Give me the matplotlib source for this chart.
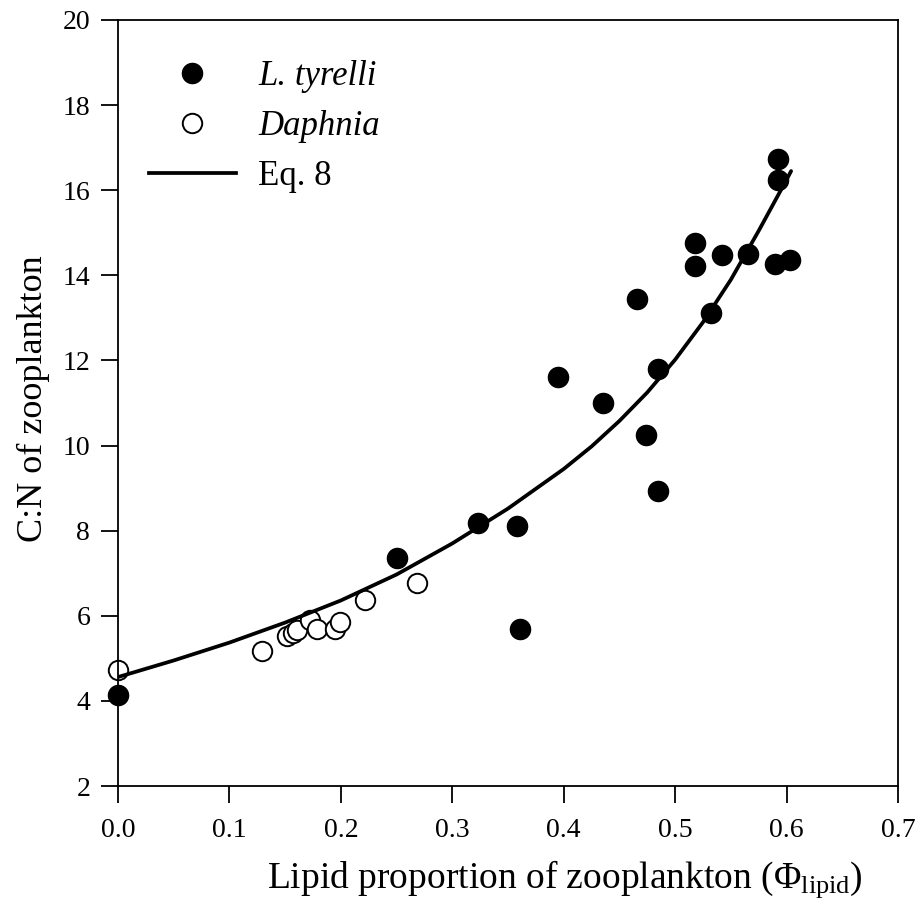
import matplotlib
matplotlib.use("Agg")
import matplotlib.pyplot as plt
from matplotlib.lines import Line2D

plt.rcParams['font.family'] = ['Liberation Serif', 'DejaVu Serif']
plt.rcParams['mathtext.fontset'] = 'custom'
plt.rcParams['mathtext.rm'] = 'Liberation Serif'
plt.rcParams['mathtext.it'] = 'Liberation Serif:italic'

# L. tyrelli (filled)
tyrelli_x = [0.0, 0.25, 0.323, 0.358, 0.361, 0.395, 0.435, 0.466, 0.474, 0.485, 0.485,
             0.518, 0.518, 0.532, 0.542, 0.565, 0.590, 0.592, 0.592, 0.603]
tyrelli_y = [4.15, 7.35, 8.18, 8.10, 5.70, 11.61, 11.00, 13.45, 10.25, 11.80, 8.93,
             14.75, 14.23, 13.12, 14.47, 14.50, 14.26, 16.25, 16.73, 14.35]

# Daphnia (open)
daphnia_x = [0.0, 0.129, 0.152, 0.157, 0.161, 0.172, 0.179, 0.195, 0.199, 0.222, 0.268]
daphnia_y = [4.72, 5.17, 5.52, 5.60, 5.66, 5.90, 5.70, 5.70, 5.85, 6.38, 6.78]

# Eq. 8 curve
eq8_x = [0.0, 0.05, 0.10, 0.15, 0.20, 0.25, 0.30, 0.35, 0.40, 0.425, 0.45, 0.475,
         0.50, 0.525, 0.55, 0.575, 0.60, 0.604]
eq8_y = [4.56, 4.95, 5.37, 5.84, 6.36, 6.97, 7.70, 8.52, 9.45, 9.98, 10.58, 11.25,
         12.02, 12.90, 13.90, 15.05, 16.25, 16.45]

fig = plt.figure(figsize=(9.23, 9.09), dpi=100)
ax = fig.add_axes([0.1278, 0.1353, 0.8452, 0.8427])

ax.plot(daphnia_x, daphnia_y, 'o', ms=14, mfc='white', mec='black', mew=1.4,
        clip_on=False, zorder=2)
ax.plot(eq8_x, eq8_y, '-', color='black', lw=2.7, solid_capstyle='round',
        solid_joinstyle='round', zorder=3)
ax.plot(tyrelli_x, tyrelli_y, 'o', ms=14.5, mfc='black', mec='black',
        clip_on=False, zorder=4)

ax.set_xlim(0, 0.7)
ax.set_ylim(2, 20)
ax.set_xticks([0.0, 0.1, 0.2, 0.3, 0.4, 0.5, 0.6, 0.7])
ax.set_xticklabels(['0.0', '0.1', '0.2', '0.3', '0.4', '0.5', '0.6', '0.7'])
ax.set_yticks([2, 4, 6, 8, 10, 12, 14, 16, 18, 20])
ax.tick_params(direction='out', length=12, width=1.3, labelsize=20,
               top=False, right=False)
ax.tick_params(axis='x', pad=11)
ax.tick_params(axis='y', pad=8)
for s in ax.spines.values():
    s.set_linewidth(1.3)

# the x label sits to the right of the axis centre in the original
ax.set_xlabel(r'Lipid proportion of zooplankton (Φ$_{\mathrm{lipid}}$)', fontsize=27,
              va='baseline')
ax.xaxis.set_label_coords(0.573, -0.133)
ax.set_ylabel('C:N of zooplankton', fontsize=26, va='center')
ax.yaxis.set_label_coords(-0.108, 0.505)

handles = [
    Line2D([], [], marker='o', ls='none', ms=14.5, mfc='black', mec='black'),
    Line2D([], [], marker='o', ls='none', ms=14, mfc='white', mec='black', mew=1.4),
    Line2D([], [], color='black', lw=2.7),
]
leg = ax.legend(handles, ['L. tyrelli', 'Daphnia', 'Eq. 8'], loc='upper left',
                bbox_to_anchor=(0.022, 0.966), frameon=False, fontsize=25,
                handlelength=2.5, handletextpad=0.65, labelspacing=0.49,
                borderaxespad=0.0, borderpad=0.4)
leg.get_texts()[0].set_style('italic')
leg.get_texts()[1].set_style('italic')

fig.savefig('out.png', dpi=100)
